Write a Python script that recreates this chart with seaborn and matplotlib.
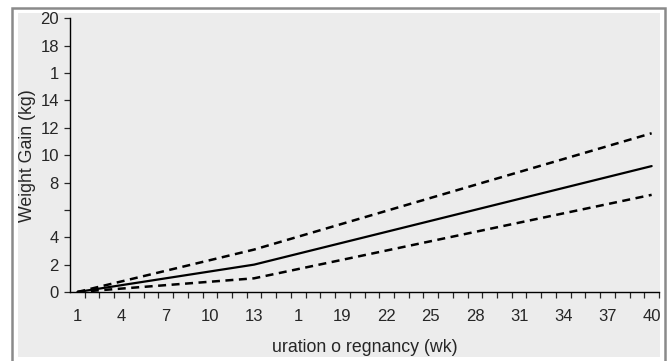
import matplotlib
matplotlib.use("Agg")
import matplotlib.pyplot as plt
import seaborn as sns
import pandas as pd
from matplotlib.patches import Rectangle
from matplotlib.ticker import FixedLocator

# Data
weeks = [1, 13, 40]
mean_gain = [0.0, 2.0, 9.2]
upper_gain = [0.0, 3.1, 11.6]
lower_gain = [0.0, 1.0, 7.1]

x_tick_values = [1, 4, 7, 10, 13, 16, 19, 22, 25, 28, 31, 34, 37, 40]
x_tick_labels = ["1", "4", "7", "10", "13", "1", "19", "22", "25", "28", "31", "34", "37", "40"]
y_tick_values = [0, 2, 4, 6, 8, 10, 12, 14, 16, 18, 20]
y_tick_labels = ["0", "2", "4", "", "8", "10", "12", "14", "1", "18", "20"]

sns.set_style("ticks")
plt.rcParams["font.family"] = ["Liberation Sans", "DejaVu Sans"]

W, H = 670, 361
fig = plt.figure(figsize=(W / 100, H / 100), dpi=100, facecolor="white")

def px(x0, y0, x1, y1):
    return (x0 / W, 1 - y1 / H, (x1 - x0) / W, (y1 - y0) / H)

# outer frame and grey panel
fx, fy, fw, fh = px(11.5, 7.5, 665, 370)
fig.patches.append(Rectangle((fx, fy), fw, fh, transform=fig.transFigure,
                             facecolor="white", edgecolor="#8a8a8a", lw=1.8, zorder=-2))
gx, gy, gw, gh = px(18, 13, 660, 357)
fig.patches.append(Rectangle((gx, gy), gw, gh, transform=fig.transFigure,
                             facecolor="#ececec", edgecolor="none", zorder=-1))

ax = fig.add_axes(px(70, 18.3, 659, 292))
ax.set_zorder(2)
ax.set_facecolor("none")

df = pd.DataFrame({"week": weeks, "mean": mean_gain, "upper": upper_gain, "lower": lower_gain})
sns.lineplot(data=df, x="week", y="mean", ax=ax, color="black", lw=1.6)
sns.lineplot(data=df, x="week", y="upper", ax=ax, color="black", lw=1.8, linestyle=(0, (3.2, 2.2)))
sns.lineplot(data=df, x="week", y="lower", ax=ax, color="black", lw=1.8, linestyle=(0, (3.2, 2.2)))

ax.set_xlim(0.5, 40.5)
ax.set_ylim(0, 20)

ax.set_xticks(x_tick_values)
ax.set_xticklabels(x_tick_labels)
ax.xaxis.set_minor_locator(FixedLocator([0.5 + k for k in range(1, 41)]))
ax.tick_params(axis="x", which="major", length=0, pad=12, labelsize=12)
ax.tick_params(axis="x", which="minor", length=4, width=0.9, direction="out")
ax.set_yticks(y_tick_values)
ax.set_yticklabels(y_tick_labels)
ax.tick_params(axis="y", length=4, width=0.9, labelsize=12, pad=4)

for s in ["top", "right"]:
    ax.spines[s].set_visible(False)
for s in ["left", "bottom"]:
    ax.spines[s].set_linewidth(1.0)
    ax.spines[s].set_color("black")

ax.set_xlabel("uration o regnancy (wk)", fontsize=12.8, labelpad=11)
ax.set_ylabel("Weight Gain (kg)", fontsize=12.8, labelpad=3)

fig.savefig("out.png", dpi=100)
